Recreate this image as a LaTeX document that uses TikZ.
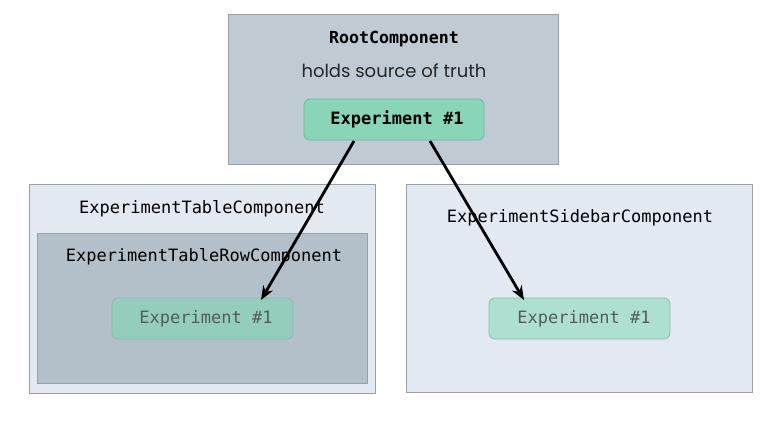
\documentclass[tikz,border=0pt]{standalone}
\usepackage{fontspec}
\setmonofont{DejaVu Sans Mono}
\newfontfamily\popfont{Poppins}
\usetikzlibrary{arrows.meta}
\definecolor{rootfill}{HTML}{BFCAD2}
\definecolor{paleblue}{HTML}{E3E9F1}
\definecolor{innerfill}{HTML}{B3C0CA}
\definecolor{boxline}{HTML}{9A9FA3}
\definecolor{greenA}{HTML}{88D5B7}
\definecolor{greenAline}{HTML}{6FB997}
\definecolor{greenB}{HTML}{94CDBB}
\definecolor{greenC}{HTML}{ADE0D0}
\definecolor{greenBline}{HTML}{85BFA8}
\definecolor{fadedtext}{HTML}{4F5E5A}
\begin{document}
\begin{tikzpicture}[x=1pt,y=-1pt,
  panel/.style={draw=boxline,line width=1pt},
  expbox/.style={rounded corners=6pt,line width=0.8pt},
  monolab/.style={font=\fontsize{17}{19}\selectfont\ttfamily},
  arr/.style={line width=2.8pt,-{Stealth[length=14pt,width=11pt]}}]
\useasboundingbox (0,0) rectangle (780,421);
\fill[white] (0,0) rectangle (780,421);
% root
\draw[panel,fill=rootfill] (228,14) rectangle (558,164);
\node[font=\fontsize{16.6}{18}\selectfont\ttfamily\bfseries] (roottitle) at (394,39) {RootComponent};
\node[font=\fontsize{18}{20}\selectfont\popfont,text=black!85] (rootsub) at (394,71) {holds source of truth};
\draw[expbox,fill=greenA,draw=greenAline] (304,99) rectangle (484,140);
\node[font=\fontsize{17}{19}\selectfont\ttfamily\bfseries] (rootexp) at (397,119.5) {Experiment \#1};
\coordinate (rs1) at (354,141);
\coordinate (rs2) at (430,141);
% left
\draw[panel,fill=paleblue] (29,184) rectangle (375,393);
\node[monolab] (tablelab) at (202,209) {ExperimentTableComponent};
\draw[panel,fill=innerfill] (37,233) rectangle (367,383);
\node[monolab] (rowlab) at (204,257) {ExperimentTableRowComponent};
\draw[expbox,fill=greenB,draw=greenBline] (112,298) rectangle (293,339);
\node[monolab,text=fadedtext] (leftexp) at (206,318.5) {Experiment \#1};
\coordinate (lt) at (261,300);
% right
\draw[panel,fill=paleblue] (406,184) rectangle (752,392);
\node[monolab] (sidelab) at (580,218) {ExperimentSidebarComponent};
\draw[expbox,fill=greenC,draw=greenBline] (489,298) rectangle (670,339);
\node[monolab,text=fadedtext] (rightexp) at (584,318.5) {Experiment \#1};
\coordinate (rt) at (524,300);
% arrows
\draw[arr] (rs1) -- (lt);
\draw[arr] (rs2) -- (rt);
\end{tikzpicture}
\end{document}
